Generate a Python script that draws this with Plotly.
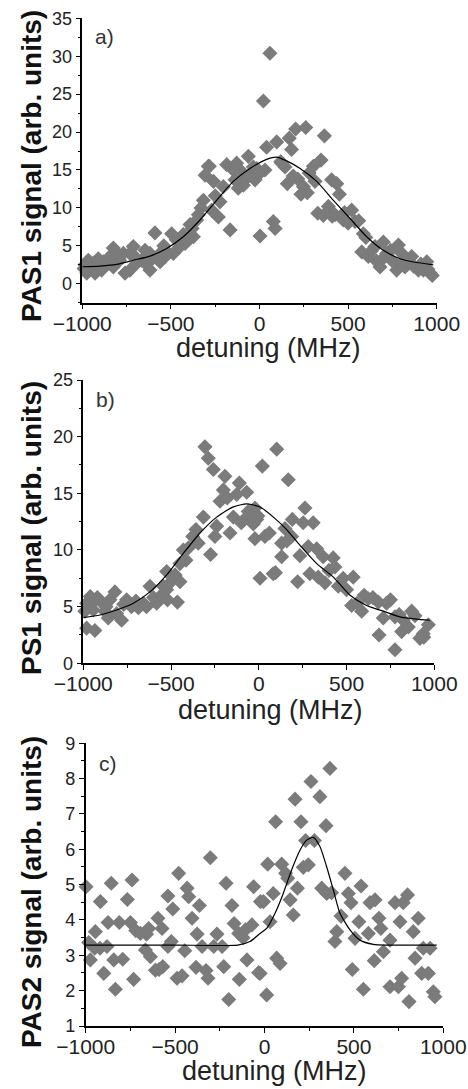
import plotly.graph_objects as go

# ---------------- data ----------------
# Panel a (PAS1)
a_x = [-289,-307,-260,-185,-129,-110,-63,-35,-138,-204,-91,-317,-345,-354,-232,-166,-223,-270,-392,-373,
       -401,-448,-496,-590,-486,-533,-561,-618,-646,-665,-712,-731,-768,-806,-825,-844,-881,-910,-938,-966,
       -985,-975,-928,-891,-825,-759,-731,-693,-618,-561,-514,-449,-420,
       -82,-148,-35,3,-25,-283,-60,-120,-250,-330,-990,-950,-860,-790,-700,-640,-600,-540,-470,-430,-380,
       59,22,261,204,366,168,181,97,40,-16,31,125,144,304,347,157,216,234,248,313,407,436,451,329,389,426,
       473,520,539,586,577,614,652,699,718,680,784,746,774,821,859,897,944,963,78,88,3,925,803,
       280,360,410,500,560,600,630,660,700,740,800,840,870,910,950,975,480,120,190,270]
a_y = [15.5,14.3,13.5,15.7,15.9,15.0,16.8,15.4,13.7,12.8,13.0,11.0,9.1,8.4,8.8,7.1,10.8,9.7,7.8,6.2,
       5.8,5.3,6.6,6.7,4.0,3.6,4.0,4.0,4.4,3.1,4.9,4.0,4.0,4.0,4.7,3.6,2.9,3.3,2.7,3.1,
       2.5,1.4,1.4,1.8,2.2,1.4,1.8,2.7,1.8,2.9,4.0,4.9,5.3,
       13.9,15.0,14.8,14.6,13.7,15.5,14.2,12.6,11.6,10.0,2.0,2.3,2.6,3.1,3.5,2.6,3.4,5.0,5.8,6.5,7.3,
       30.4,24.1,20.6,20.4,19.5,19.2,17.7,18.7,18.0,15.2,15.0,15.9,15.4,15.5,16.3,13.2,13.8,11.8,12.8,13.5,13.7,13.2,11.8,9.3,10.2,9.1,
       8.4,9.7,8.2,6.6,4.2,3.6,4.9,5.5,4.0,2.2,5.1,3.1,1.8,2.2,3.6,1.8,2.9,1.4,8.2,7.3,6.3,1.8,4.0,
       14.6,9.0,8.9,8.0,8.3,6.1,4.3,3.0,3.4,4.4,2.6,3.0,2.3,2.6,1.9,1.1,9.4,16.1,14.2,12.0]
a_fit_x = [-1000,-900,-806,-712,-618,-524,-430,-336,-242,-148,-54,40,97,153,229,323,417,511,605,699,793,887,981]
a_fit_y = [2.24,2.33,2.55,3.1,3.65,4.66,6.2,8.4,11.0,13.5,15.2,16.4,16.7,16.2,15.2,13.5,11.0,8.6,6.2,4.4,3.3,2.8,2.5]

# Panel b (PS1)
b_x = [-307,-288,-259,-193,-111,-202,-221,-126,-69,-145,-88,-50,-31,-22,-316,-358,-377,-240,-250,-164,
       -345,-430,-415,-275,-449,-525,-477,-449,-544,-620,-525,-563,-582,-464,-658,-686,-753,-725,-820,-848,
       -896,-943,-981,-877,-858,-782,-934,-981,-943,-991,
       -100,-60,-180,-400,-500,-600,-640,-700,-770,-920,-960,-870,-810,-520,
       102,20,168,263,191,253,310,-22,-12,35,149,130,187,282,330,234,130,7,82,221,291,339,367,424,434,377,
       481,453,538,529,586,624,681,728,709,776,823,871,852,814,918,937,966,685,776,
       95,160,400,500,560,600,650,750,800,890,940,60,-5]
b_y = [19.1,18.1,17.1,16.5,15.9,15.3,14.3,14.9,15.1,12.9,12.6,12.9,12.3,11.0,12.9,11.8,11.2,12.1,11.2,11.5,
       10.6,10.0,9.1,9.6,8.8,8.1,7.8,7.2,6.8,6.8,6.5,5.9,5.3,5.4,5.3,4.9,5.6,5.0,6.3,5.6,
       5.4,5.4,5.3,4.6,4.0,3.8,2.9,3.1,4.7,4.6,
       12.4,13.4,14.6,10.2,7.2,5.8,5.0,5.5,5.2,5.8,5.9,5.0,4.4,5.6,
       18.9,17.4,16.2,13.7,12.7,12.4,12.4,13.7,12.7,11.2,11.9,10.6,11.2,10.3,10.1,9.5,9.4,7.5,7.9,7.2,7.9,7.6,9.4,9.3,8.5,7.1,
       7.5,6.8,7.6,5.1,4.6,5.7,5.4,5.3,4.0,4.1,3.8,4.6,3.2,2.8,2.2,2.6,3.4,2.5,1.2,
       8.0,10.8,8.2,6.5,5.3,6.0,5.8,5.6,4.3,4.2,2.3,11.5,13.0]
b_fit_x = [-1000,-905,-810,-715,-620,-525,-430,-335,-240,-145,-69,7,83,159,235,330,425,520,614,709,804,899,975]
b_fit_y = [4.03,4.26,4.7,5.3,6.3,7.8,9.7,11.5,12.9,13.8,14.06,13.8,12.9,11.8,10.4,8.8,7.6,6.0,5.1,4.6,4.1,3.9,3.8]

# Panel c (PAS2)
c_x = [-998,-946,-983,-918,-857,-875,-812,-750,-741,-767,-694,-648,-596,-573,-540,-513,-480,-433,-424,-405,
       -377,-364,-303,-266,-215,-182,-144,-107,-70,-61,-23,-974,-899,-843,-793,-834,-732,-666,-638,-610,
       -569,-521,-489,-461,-446,-383,-327,-316,-228,-200,-141,-98,-33,-349,-284,-237,-540,-881,
       -720,-660,-590,-120,-170,-950,-920,
       366,260,310,171,62,204,344,230,279,18,96,118,130,217,245,49,-6,143,184,320,348,375,450,469,484,540,
       590,618,730,776,800,860,758,640,651,161,31,428,404,394,528,506,581,702,665,832,888,926,842,614,68,87,
       -25,491,553,702,749,767,879,916,944,953,808,12]
c_y = [4.94,3.67,3.36,4.52,5.04,3.93,3.93,3.93,5.13,4.58,3.62,3.76,4.05,3.76,4.68,4.31,5.32,4.90,4.66,4.05,
       3.60,4.41,5.76,3.60,5.04,4.41,3.62,3.72,3.86,4.94,4.52,2.87,2.49,2.87,2.89,2.04,2.32,3.15,2.96,2.58,
       2.68,3.39,2.35,2.42,3.13,2.66,2.57,2.35,2.68,1.75,2.32,2.87,2.51,3.25,3.25,3.25,3.25,3.25,
       3.7,3.6,2.6,3.5,3.9,3.2,3.2,
       8.29,7.92,7.49,7.42,6.78,6.78,6.67,6.25,6.25,5.58,5.58,5.32,5.18,5.49,5.56,4.75,4.52,4.57,4.90,4.90,4.75,4.77,5.32,4.75,4.49,4.96,
       4.49,4.57,4.49,4.49,4.71,4.05,3.95,4.05,3.76,4.14,3.95,4.11,3.67,3.39,3.95,3.48,3.62,3.43,3.10,3.67,3.20,3.20,2.92,2.85,2.92,2.77,
       2.49,2.60,2.04,2.11,2.11,2.35,2.49,2.49,1.97,1.83,1.69,1.88]
c_fit_x = [-1000,-500,-150,-81,-25,12,59,105,152,199,236,273,310,348,385,422,478,534,609,683,963]
c_fit_y = [3.29,3.29,3.29,3.39,3.62,3.76,4.19,4.75,5.42,5.98,6.26,6.34,6.08,5.5,4.85,4.19,3.72,3.43,3.31,3.29,3.29]

panel_labels = ["a)", "b)", "c)"]
y_titles = ["PAS1 signal (arb. units)", "PS1 signal (arb. units)", "PAS2 signal (arb. units)"]
x_title = "detuning (MHz)"
x_ticks = [-1000, -500, 0, 500, 1000]

# ---------------- layout geometry ----------------
W, H = 468, 1089
def py(p):
    return 1 - p / H

panels = [
    dict(x=a_x, y=a_y, fx=a_fit_x, fy=a_fit_y, xd=[82.3/W, 436.7/W], yd=[py(302.7), py(18.3)],
         yr=[-2.5, 35], ydt=5, ymin=2.5, lab=(104, 36), yt=(31, 166), xt=(268, 348)),
    dict(x=b_x, y=b_y, fx=b_fit_x, fy=b_fit_y, xd=[83.3/W, 434.3/W], yd=[py(663.3), py(380)],
         yr=[0, 25], ydt=5, ymin=2.5, lab=(105, 399), yt=(31, 528), xt=(270, 710)),
    dict(x=c_x, y=c_y, fx=c_fit_x, fy=c_fit_y, xd=[85.7/W, 443.3/W], yd=[py(1026), py(743.3)],
         yr=[1, 9], ydt=1, ymin=0.5, lab=(108, 764), yt=(31, 892), xt=(274, 1071)),
]

fig = go.Figure()
annotations = []
for i, p in enumerate(panels):
    n = "" if i == 0 else str(i + 1)
    xa, ya = "x" + n, "y" + n
    fig.add_trace(go.Scatter(x=p["x"], y=p["y"], mode="markers", xaxis=xa, yaxis=ya,
                             marker=dict(symbol="diamond", size=10, color="#7b7b7b",
                                         line=dict(width=1.5, color="#7b7b7b")),
                             cliponaxis=False, showlegend=False))
    fig.add_trace(go.Scatter(x=p["fx"], y=p["fy"], mode="lines", xaxis=xa, yaxis=ya,
                             line=dict(color="black", width=1.2, shape="spline", smoothing=0.6),
                             cliponaxis=False, showlegend=False))
    common = dict(showline=True, linecolor="black", linewidth=1.5, ticks="outside", ticklen=5,
                  tickwidth=1.2, tickcolor="black", showgrid=False, zeroline=False, mirror=False,
                  automargin=False)
    fig.layout["xaxis" + n] = dict(domain=p["xd"], range=[-1000, 1000], anchor=ya,
                                   tickvals=x_ticks, ticklabelstandoff=-4,
                                   tickfont=dict(family="Liberation Sans, Arial", size=21, color="#222"),
                                   minor=dict(dtick=250, ticks="outside", ticklen=3, tickcolor="black"),
                                   **common)
    fig.layout["yaxis" + n] = dict(domain=p["yd"], range=p["yr"], anchor=xa, dtick=p["ydt"],
                                   tickfont=dict(family="Liberation Sans, Arial", size=18, color="#222"),
                                   minor=dict(dtick=p["ymin"], ticks="outside", ticklen=3, tickcolor="black"),
                                   **common)
    annotations.append(dict(text=panel_labels[i], x=p["lab"][0]/W, y=py(p["lab"][1]), xref="paper", yref="paper",
                            showarrow=False, xanchor="center", yanchor="middle",
                            font=dict(family="Liberation Sans, Arial", size=21, color="#333")))
    annotations.append(dict(text="<b>" + y_titles[i] + "</b>", x=p["yt"][0]/W, y=py(p["yt"][1]),
                            xref="paper", yref="paper", showarrow=False, textangle=-90,
                            xanchor="center", yanchor="middle",
                            font=dict(family="Liberation Sans, Arial", size=28, color="#111")))
    annotations.append(dict(text=x_title, x=p["xt"][0]/W, y=py(p["xt"][1]), xref="paper", yref="paper",
                            showarrow=False, xanchor="center", yanchor="middle",
                            font=dict(family="Liberation Sans, Arial", size=27, color="#222")))

fig.update_layout(width=W, height=H, margin=dict(l=0, r=0, t=0, b=0), template="none",
                  paper_bgcolor="white", plot_bgcolor="white", annotations=annotations)

fig.write_html("out.html")
